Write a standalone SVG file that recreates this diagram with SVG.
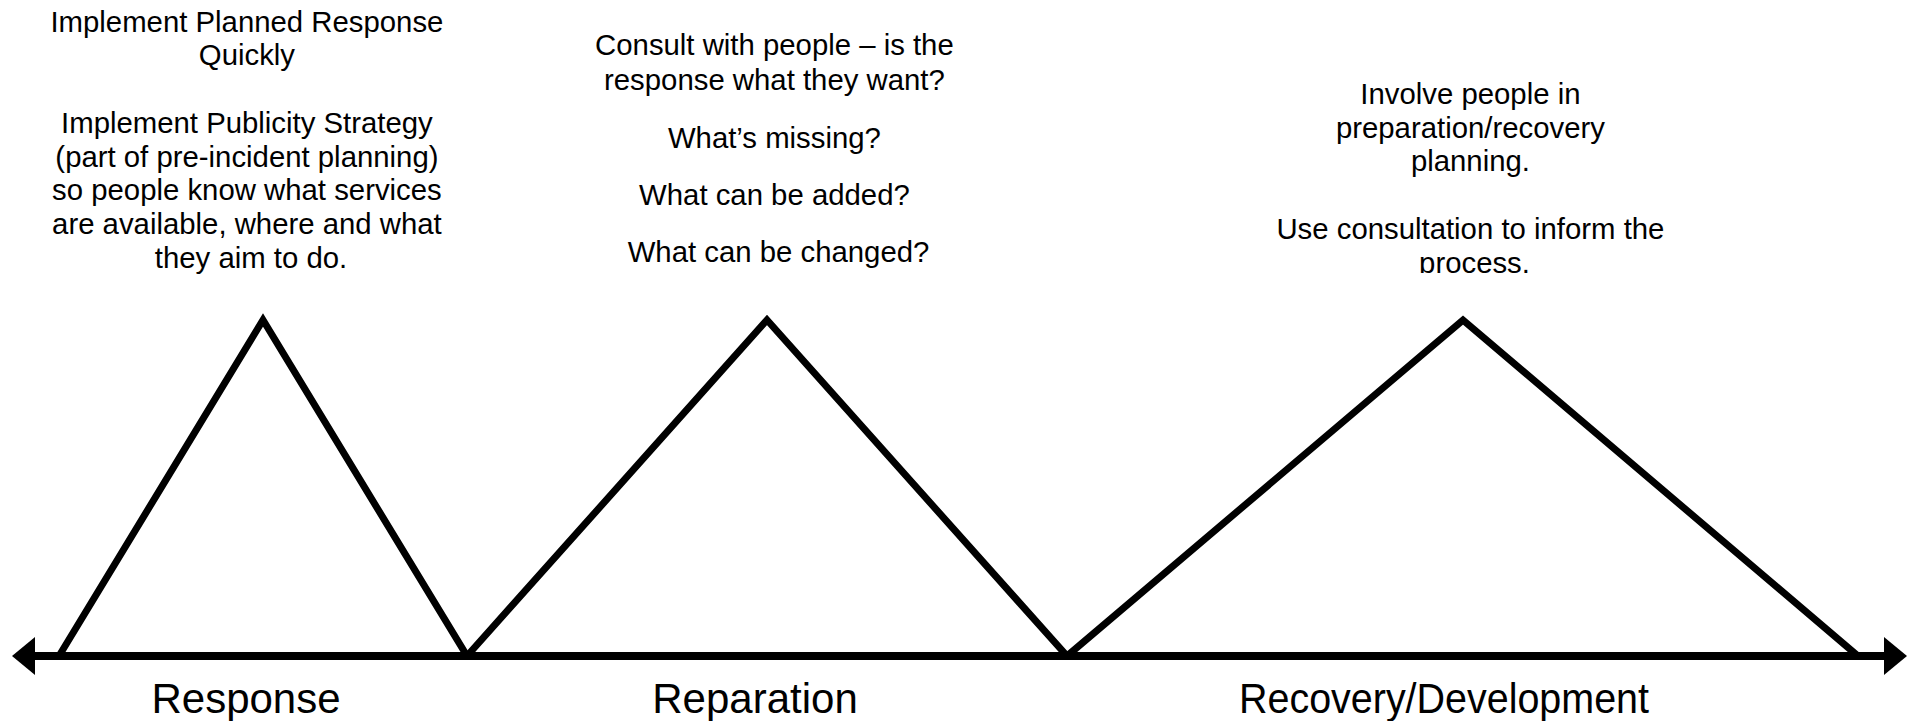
<svg xmlns="http://www.w3.org/2000/svg" width="1910" height="721" viewBox="0 0 1910 721">
  <style>
    .note { font-family: "Liberation Sans", Arial, sans-serif; font-size: 29.33px; fill: #000; text-anchor: middle; }
    .phase { font-family: "Liberation Sans", Arial, sans-serif; font-size: 42px; fill: #000; text-anchor: middle; }
    .peak { fill: none; stroke: #000; stroke-width: 7; stroke-linejoin: miter; stroke-miterlimit: 10; }
    .axis { stroke: #000; stroke-width: 8; fill: none; }
    .head { fill: #000; }
  </style>
  <defs>
    <clipPath id="clip-recovery-note">
      <rect x="1200" y="60" width="560" height="213"/>
    </clipPath>
  </defs>
  <rect width="1910" height="721" fill="#fff"/>

  <!-- timeline axis, double-headed -->
  <g id="connectors">
    <line class="axis" x1="33" y1="656" x2="1886" y2="656"/>
    <polygon class="head" points="12,656 35,637 35,675"/>
    <polygon class="head" points="1907,656 1884,637 1884,675"/>
  </g>

  <!-- Response phase -->
  <g id="response">
    <polygon class="peak" points="59,656 263,320 467,656"/>
    <text class="note">
      <tspan x="251" y="31.7">Implement Planned Response</tspan>
      <tspan x="251" y="65.4">Quickly</tspan>
      <tspan x="251" y="132.8">Implement Publicity Strategy</tspan>
      <tspan x="251" y="166.5">(part of pre-incident planning)</tspan>
      <tspan x="251" y="200.2">so people know what services</tspan>
      <tspan x="251" y="233.9">are available, where and what</tspan>
      <tspan x="251" y="267.6">they aim to do.</tspan>
    </text>
    <text class="phase" x="246" y="713">Response</text>
  </g>

  <!-- Reparation phase -->
  <g id="reparation">
    <polygon class="peak" points="467,656 767,320 1067,656"/>
    <text class="note">
      <tspan x="778.5" y="55">Consult with people – is the</tspan>
      <tspan x="778.5" y="90">response what they want?</tspan>
      <tspan x="778.5" y="148">What’s missing?</tspan>
      <tspan x="778.5" y="205">What can be added?</tspan>
      <tspan x="778.5" y="262">What can be changed?</tspan>
    </text>
    <text class="phase" x="755" y="713">Reparation</text>
  </g>

  <!-- Recovery/Development phase -->
  <g id="recovery">
    <polygon class="peak" points="1067,656 1463,320 1858,656"/>
    <text class="note" clip-path="url(#clip-recovery-note)">
      <tspan x="1474.5" y="104">Involve people in</tspan>
      <tspan x="1474.5" y="137.7">preparation/recovery</tspan>
      <tspan x="1474.5" y="171.4">planning.</tspan>
      <tspan x="1474.5" y="238.8">Use consultation to inform the</tspan>
      <tspan x="1474.5" y="272.5">process.</tspan>
    </text>
    <text class="phase" x="1444" y="713" textLength="410" lengthAdjust="spacingAndGlyphs">Recovery/Development</text>
  </g>
</svg>
